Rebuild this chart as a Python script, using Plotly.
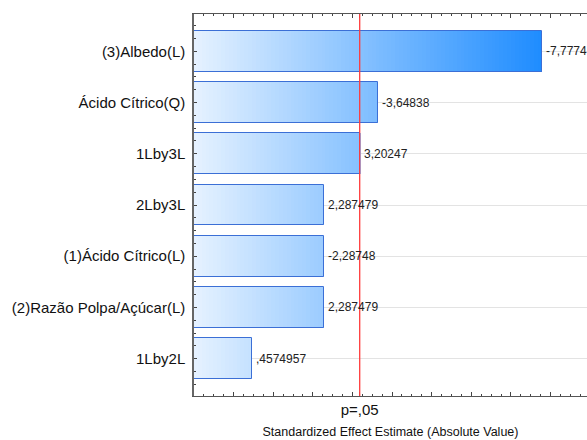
import plotly.graph_objects as go

# ---- data ----
categories = ["(3)Albedo(L)", "Ácido Cítrico(Q)", "1Lby3L", "2Lby3L",
              "(1)Ácido Cítrico(L)", "(2)Razão Polpa/Açúcar(L)", "1Lby2L"]
effects = [-7.7774, -3.64838, 3.20247, 2.287479, -2.28748, 2.287479, 0.4574957]
value_labels = ["-7,7774", "-3,64838", "3,20247", "2,287479", "-2,28748", "2,287479", ",4574957"]
p_critical = 3.182446
p_label = "p=,05"
x_title = "Standardized Effect Estimate (Absolute Value)"

abs_eff = [abs(v) for v in effects]
ypos = list(range(len(categories)))

x_min, x_max = -1.0, 8.92
grad_end = max(abs_eff)

c0 = (230, 242, 255)
c1 = (30, 140, 255)

fig = go.Figure()

# gradient segments
N = 90
seg = (grad_end - x_min) / N
for k in range(N):
    x0 = x_min + k * seg
    x1 = x0 + seg * 1.6
    t = (k + 0.5) / N
    col = "rgb(%d,%d,%d)" % tuple(round(c0[i] + (c1[i] - c0[i]) * t) for i in range(3))
    widths = [max(0.0, min(x1, v) - x0) for v in abs_eff]
    fig.add_trace(go.Bar(
        y=ypos, x=widths, base=[x0] * len(ypos), orientation="h",
        width=0.8, marker=dict(color=col, line=dict(width=0)),
        showlegend=False, hoverinfo="skip"))

# outline
fig.add_trace(go.Bar(
    y=ypos, x=[v - x_min for v in abs_eff], base=[x_min] * len(ypos), orientation="h",
    width=0.8, marker=dict(color="rgba(0,0,0,0)", line=dict(color="#3b6fd6", width=1)),
    showlegend=False, hoverinfo="skip"))

# value labels
for v, y, lab in zip(abs_eff, ypos, value_labels):
    fig.add_annotation(x=v, y=y, text=lab, showarrow=False, xanchor="left", yanchor="middle",
                       xshift=2, font=dict(family="Liberation Sans, Arial", size=12, color="#222"))

fig.add_vline(x=p_critical, line_color="#ff3b3b", line_width=1.3)

int_ticks = list(range(int(x_min), int(x_max) + 1))
fig.update_layout(
    width=587, height=440,
    margin=dict(l=194, r=0, t=14, b=44),
    paper_bgcolor="white", plot_bgcolor="white",
    barmode="overlay", bargap=0,
    font=dict(family="Liberation Sans, Arial", color="#111"),
    xaxis=dict(
        range=[x_min, x_max],
        tickmode="array",
        tickvals=int_ticks + [p_critical],
        ticktext=[""] * len(int_ticks) + [p_label],
        ticks="inside", ticklen=4, tickcolor="#444",
        tickfont=dict(size=15, color="#111"),
        showline=True, linecolor="#555", linewidth=1,
        mirror="allticks", showgrid=False, zeroline=False,
        minor=dict(dtick=0.25, tick0=0, ticks="inside", ticklen=2, tickcolor="#444", showgrid=False),
        title=dict(text=x_title, font=dict(size=12.5, color="#111"), standoff=10),
    ),
    yaxis=dict(
        range=[6.73, -0.73],
        tickmode="array", tickvals=ypos, ticktext=categories,
        ticks="inside", ticklen=3, tickcolor="#444",
        tickfont=dict(size=15, color="#111"),
        showline=True, linecolor="#666", linewidth=1.5,
        showgrid=True, gridcolor="#e3e3e3", gridwidth=1,
        zeroline=False,
        minor=dict(dtick=0.25, tick0=0, ticks="inside", ticklen=2, tickcolor="#444", showgrid=False),
        ticklabelstandoff=4,
    ),
)

fig.write_html("out.html")
